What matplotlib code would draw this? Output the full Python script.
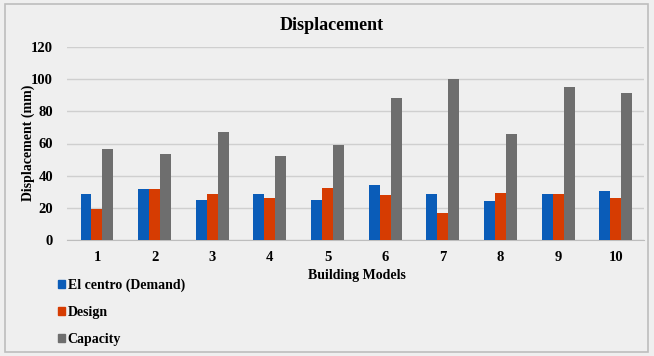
import matplotlib
matplotlib.use("Agg")
import matplotlib.pyplot as plt
import numpy as np
from matplotlib.patches import Rectangle, Patch

categories = ["1", "2", "3", "4", "5", "6", "7", "8", "9", "10"]
demand = [29, 31.5, 25, 29, 25, 34, 28.5, 24.2, 28.5, 30.3]
design = [19.5, 31.5, 29, 26, 32.5, 28, 17, 29.6, 28.5, 26.5]
capacity = [56.6, 53.7, 67, 52, 59, 88, 100, 65.7, 95, 91]
series_names = ["El centro (Demand)", "Design", "Capacity"]
colors = ["#0a5cb8", "#d63c02", "#6e6e6e"]
yticks = [0, 20, 40, 60, 80, 100, 120]

plt.rcParams['font.family'] = ['Liberation Serif', 'DejaVu Serif']
plt.rcParams['font.weight'] = 'bold'

W, H = 654, 356
fig = plt.figure(figsize=(W / 100, H / 100), dpi=100)
fig.patch.set_facecolor("#efefef")
fig.patches.append(Rectangle((5 / W, 4 / H), 643 / W, 348 / H, transform=fig.transFigure,
                             fill=False, edgecolor="#bdbdbd", lw=1.2))

ax = fig.add_axes([67 / W, 1 - 240.3 / H, (644 - 67) / W, (240.3 - 46.7) / H])
ax.set_facecolor("#efefef")

x = np.arange(len(categories))
bw = 0.19
for i, (vals, c) in enumerate(zip([demand, design, capacity], colors)):
    ax.bar(x + (i - 1) * bw, vals, width=bw, color=c, zorder=3)

ax.set_xlim(-0.52, 9.49)
ax.set_ylim(0, 120)
ax.set_yticks(yticks)
ax.set_xticks(x)
ax.set_xticklabels(categories)
ax.grid(axis="y", color="#cfcfcf", lw=1, zorder=0)
for s in ["top", "right", "left"]:
    ax.spines[s].set_visible(False)
ax.spines["bottom"].set_color("#bdbdbd")
ax.tick_params(axis="both", length=0, labelsize=10.5)
ax.tick_params(axis="x", pad=8)
ax.tick_params(axis="y", pad=10)
for lab in ax.get_xticklabels() + ax.get_yticklabels():
    lab.set_fontweight("bold")

fig.text(332 / W, 1 - 26 / H, "Displacement", ha="center", va="center", fontsize=13, fontweight="bold")
fig.text(28 / W, 1 - 143 / H, "Displacement (mm)", ha="center", va="center", rotation=90,
         fontsize=10, fontweight="bold")
fig.text(357 / W, 1 - 275 / H, "Building Models", ha="center", va="center", fontsize=10, fontweight="bold")

handles = [Patch(color=c) for c in colors]
leg = fig.legend(handles, series_names, loc="upper left", bbox_to_anchor=(58 / W, 1 - 279 / H),
                 frameon=False, handlelength=0.5, handleheight=0.5, handletextpad=0.2,
                 labelspacing=1.0, borderpad=0, borderaxespad=0,
                 prop={"size": 10, "weight": "bold"})

fig.savefig("out.png", dpi=100, facecolor=fig.get_facecolor())
